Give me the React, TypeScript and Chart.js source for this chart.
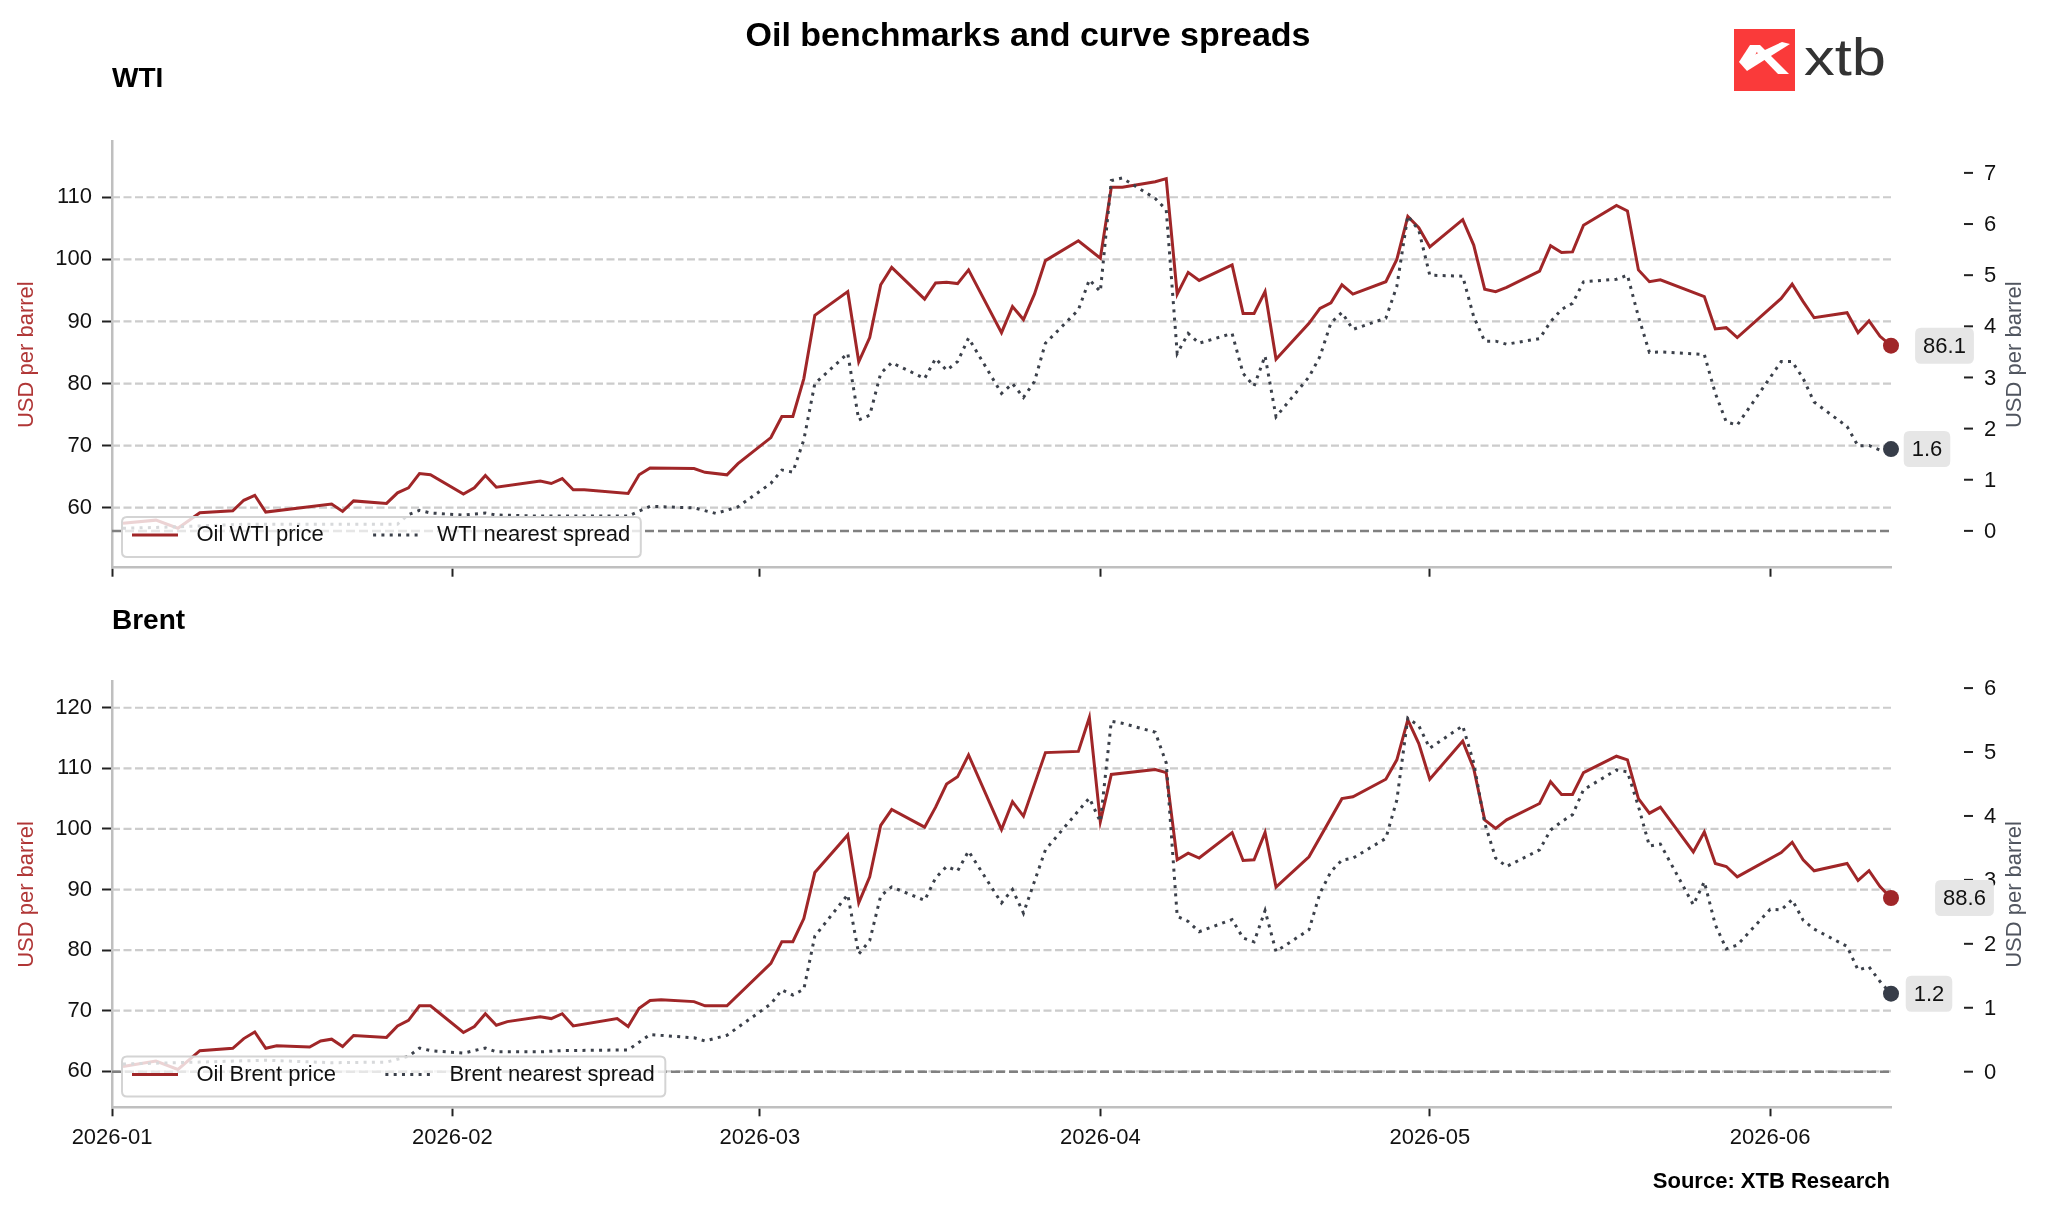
import React, { useEffect, useRef } from "react";
import { Chart, registerables } from "chart.js";

Chart.register(...registerables);

const FONT = "'Liberation Sans', Arial, Helvetica, sans-serif";
const PRICE_COLOR = "#a02628";
const PRICE_LABEL_COLOR = "#b03636";
const SPREAD_COLOR = "#3b404a";
const SPREAD_DOT = "#373d49";
const SPREAD_LABEL_COLOR = "#50555f";

// x values: days since 2026-01-01
const monthTicks = [0, 31, 59, 90, 120, 151];
const monthLabels = ["2026-01", "2026-02", "2026-03", "2026-04", "2026-05", "2026-06"];
const lastDay = 162;

// ---- WTI ----
const wtiPriceDays = [1,4,6,8,11,12,13,14,20,21,22,25,26,27,28,29,32,33,34,35,39,40,41,42,43,47,48,49,53,54,56,57,60,61,62,63,64,67,68,69,70,71,74,75,76,77,78,81,82,83,84,85,88,90,91,92,95,96,97,98,99,102,103,104,105,106,109,110,111,112,113,116,117,118,119,120,123,124,125,126,127,130,131,132,133,134,137,138,139,140,141,145,146,147,148,152,153,154,155,158,159,160,161,162];
const wtiPrice = [57.5,58.0,56.7,59.2,59.5,61.2,62.0,59.3,60.6,59.4,61.1,60.7,62.4,63.2,65.5,65.3,62.2,63.2,65.2,63.3,64.3,63.9,64.7,62.9,62.9,62.3,65.3,66.4,66.3,65.7,65.3,67.1,71.3,74.7,74.7,80.8,91.0,94.8,83.5,87.4,95.9,98.7,93.6,96.2,96.3,96.1,98.3,88.2,92.4,90.3,94.4,99.8,103.0,100.2,111.6,111.6,112.5,113.0,94.4,97.9,96.6,99.1,91.3,91.3,94.8,83.9,89.7,92.1,93.0,95.9,94.4,96.4,100.0,106.9,105.1,102.0,106.4,102.3,95.2,94.8,95.5,98.1,102.2,101.1,101.2,105.5,108.7,107.8,98.3,96.4,96.7,94.0,88.8,89.0,87.4,93.7,96.0,93.2,90.6,91.4,88.2,90.1,87.6,86.1];
const wtiSpreadDays = [1,6,12,20,26,27,28,29,32,34,35,39,41,47,49,53,55,57,60,61,62,63,64,67,68,69,70,71,74,75,76,77,78,81,82,83,84,85,88,89,90,91,92,95,96,97,98,99,102,103,104,105,106,109,110,111,112,113,116,117,118,119,120,123,124,125,126,127,130,131,132,133,134,137,138,139,140,141,145,146,147,148,152,153,154,155,158,159,160,161,162];
const wtiSpread = [0.05,0.08,0.13,0.13,0.13,0.32,0.4,0.35,0.31,0.35,0.31,0.29,0.29,0.29,0.48,0.45,0.34,0.47,0.93,1.19,1.15,1.78,2.88,3.47,2.17,2.26,3.08,3.29,2.98,3.37,3.14,3.31,3.77,2.69,2.88,2.61,2.92,3.67,4.32,4.91,4.68,6.85,6.9,6.5,6.28,3.47,3.86,3.67,3.86,3.08,2.83,3.42,2.23,3.01,3.41,4.07,4.27,3.94,4.16,4.78,6.16,5.88,5.0,4.98,4.19,3.71,3.71,3.65,3.76,4.09,4.33,4.45,4.87,4.92,5.0,4.19,3.49,3.5,3.45,2.69,2.13,2.07,3.31,3.31,2.98,2.52,2.04,1.66,1.67,1.58,1.6];
const wtiPriceTicks = [60, 70, 80, 90, 100, 110];
const wtiSpreadTicks = [0, 1, 2, 3, 4, 5, 6, 7];

// ---- Brent ----
const brentPriceDays = [1,4,6,8,11,12,13,14,15,18,19,20,21,22,25,26,27,28,29,32,33,34,35,36,39,40,41,42,46,47,48,49,50,53,54,56,60,61,62,63,64,67,68,69,70,71,74,75,76,77,78,81,82,83,85,88,89,90,91,95,96,97,98,99,102,103,104,105,106,109,112,113,116,117,118,119,120,123,124,125,126,127,130,131,132,133,134,137,138,139,140,141,144,145,146,147,148,152,153,154,155,158,159,160,161,162];
const brentPrice = [60.8,61.7,60.3,63.4,63.8,65.4,66.5,63.8,64.2,64.0,65.0,65.3,64.1,65.9,65.6,67.5,68.4,70.8,70.8,66.4,67.4,69.5,67.6,68.2,69.0,68.7,69.5,67.5,68.7,67.4,70.4,71.7,71.8,71.5,70.8,70.8,77.8,81.4,81.4,85.2,92.8,99.0,87.8,92.1,100.6,103.2,100.3,103.6,107.4,108.6,112.2,99.9,104.5,102.1,112.6,112.8,118.4,101.2,109.0,109.8,109.3,94.9,96.0,95.2,99.4,94.8,94.9,99.4,90.4,95.4,105.0,105.3,108.2,111.4,118.0,114.1,108.2,114.5,110.0,101.5,100.1,101.5,104.2,107.8,105.7,105.7,109.3,112.0,111.4,105.0,102.6,103.6,96.2,99.5,94.3,93.8,92.1,96.1,97.8,94.9,93.1,94.3,91.5,93.1,90.5,88.6];
const brentSpreadDays = [1,8,14,20,25,27,28,29,32,34,35,39,41,47,49,53,54,56,60,61,62,63,64,67,68,69,70,71,74,75,76,77,78,81,82,83,85,88,89,90,91,92,95,96,97,98,99,102,103,104,105,106,109,110,111,112,113,116,117,118,119,120,123,124,125,126,127,130,131,132,133,134,137,138,139,140,141,144,145,146,147,148,151,152,153,154,155,158,159,160,161,162];
const brentSpread = [0.12,0.15,0.18,0.14,0.15,0.24,0.37,0.33,0.29,0.37,0.31,0.31,0.33,0.34,0.58,0.53,0.48,0.57,1.06,1.28,1.2,1.29,2.12,2.77,1.84,2.05,2.75,2.89,2.68,3.03,3.21,3.14,3.45,2.64,2.85,2.48,3.47,4.08,4.28,3.91,5.48,5.45,5.31,4.83,2.43,2.35,2.19,2.38,2.09,2.03,2.52,1.88,2.22,2.79,3.13,3.31,3.34,3.65,4.25,5.53,5.41,5.06,5.41,4.83,3.89,3.34,3.21,3.47,3.78,3.91,4.02,4.41,4.72,4.69,4.15,3.53,3.56,2.61,2.97,2.3,1.92,1.98,2.54,2.53,2.69,2.37,2.23,1.96,1.59,1.64,1.41,1.22];
const brentPriceTicks = [60, 70, 80, 90, 100, 110, 120];
const brentSpreadTicks = [0, 1, 2, 3, 4, 5, 6];

function roundRect(ctx: any, x: number, y: number, w: number, h: number, r: number) {
  ctx.beginPath();
  ctx.moveTo(x + r, y);
  ctx.lineTo(x + w - r, y);
  ctx.quadraticCurveTo(x + w, y, x + w, y + r);
  ctx.lineTo(x + w, y + h - r);
  ctx.quadraticCurveTo(x + w, y + h, x + w - r, y + h);
  ctx.lineTo(x + r, y + h);
  ctx.quadraticCurveTo(x, y + h, x, y + h - r);
  ctx.lineTo(x, y + r);
  ctx.quadraticCurveTo(x, y, x + r, y);
  ctx.closePath();
}

const panelDecor = {
  id: "panelDecor",
  beforeDatasetsDraw(chart: any) {
    const { ctx, chartArea: a } = chart;
    const ys = chart.scales.y;
    const y2 = chart.scales.y2;
    ctx.save();
    ctx.lineWidth = 2.2;
    ctx.strokeStyle = "#cccccc";
    ctx.setLineDash([8, 3.5]);
    for (const t of ys.ticks) {
      const y = ys.getPixelForValue(t.value);
      ctx.beginPath();
      ctx.moveTo(a.left, y);
      ctx.lineTo(a.right, y);
      ctx.stroke();
    }
    ctx.strokeStyle = "#808080";
    ctx.lineWidth = 2.5;
    ctx.setLineDash([9, 4]);
    const z = y2.getPixelForValue(0);
    ctx.beginPath();
    ctx.moveTo(a.left, z);
    ctx.lineTo(a.right, z);
    ctx.stroke();
    ctx.restore();
  },
  afterDatasetsDraw(chart: any, _args: any, o: any) {
    const { ctx, chartArea: a } = chart;
    const y2 = chart.scales.y2;
    ctx.save();
    ctx.setLineDash([]);
    // right axis (offset outward): tick marks and labels
    ctx.strokeStyle = "#222";
    ctx.lineWidth = 2;
    ctx.font = `22px ${FONT}`;
    ctx.fillStyle = "#111";
    ctx.textAlign = "left";
    ctx.textBaseline = "middle";
    for (const t of y2.ticks) {
      const y = y2.getPixelForValue(t.value);
      ctx.beginPath();
      ctx.moveTo(a.right + 73, y);
      ctx.lineTo(a.right + 82, y);
      ctx.stroke();
      ctx.fillText(String(t.value), a.right + 93, y + 1);
    }
    // legend
    const spread = chart.data.datasets[0];
    const price = chart.data.datasets[1];
    const w1 = ctx.measureText(price.label).width;
    const w2 = ctx.measureText(spread.label).width;
    const bh = 40;
    const bx = a.left + 10;
    const by = a.bottom - 10.7 - bh;
    const bw = 10 + 46 + 18.5 + w1 + 49.5 + 45 + 19 + w2 + 10.5;
    roundRect(ctx, bx, by, bw, bh, 5);
    ctx.fillStyle = "rgba(255,255,255,0.8)";
    ctx.fill();
    ctx.strokeStyle = "#d4d4d4";
    ctx.lineWidth = 2;
    ctx.stroke();
    const cy = by + 18;
    let x = bx + 10;
    ctx.strokeStyle = price.borderColor;
    ctx.lineWidth = price.borderWidth;
    ctx.beginPath();
    ctx.moveTo(x, cy);
    ctx.lineTo(x + 46, cy);
    ctx.stroke();
    x += 46 + 18.5;
    ctx.fillStyle = "#111";
    ctx.fillText(price.label, x, cy);
    x += w1 + 49.5;
    ctx.strokeStyle = spread.borderColor;
    ctx.lineWidth = spread.borderWidth;
    ctx.setLineDash(spread.borderDash);
    ctx.beginPath();
    ctx.moveTo(x, cy);
    ctx.lineTo(x + 45, cy);
    ctx.stroke();
    ctx.setLineDash([]);
    x += 45 + 19;
    ctx.fillText(spread.label, x, cy);
    // end-of-series value labels
    const drawEnd = (idx: number, dx: number) => {
      const ds = chart.data.datasets[idx];
      const meta = chart.getDatasetMeta(idx);
      const pt = meta.data[meta.data.length - 1];
      const val = ds.data[ds.data.length - 1].y;
      const txt = val.toFixed(1);
      const tw = ctx.measureText(txt).width;
      const w = tw + 16;
      const h = 36;
      const cx = pt.x + dx;
      roundRect(ctx, cx - w / 2, pt.y - h / 2, w, h, 6);
      ctx.fillStyle = "#e6e6e6";
      ctx.fill();
      ctx.fillStyle = "#111";
      ctx.textAlign = "center";
      ctx.fillText(txt, cx, pt.y + 1);
    };
    drawEnd(1, o.priceLabelDx);
    drawEnd(0, o.spreadLabelDx);
    ctx.restore();
  },
  afterDraw(chart: any) {
    const { ctx, chartArea: a } = chart;
    const drawV = (text: string, x: number, color: string) => {
      ctx.save();
      ctx.translate(x, (a.top + a.bottom) / 2);
      ctx.rotate(-Math.PI / 2);
      ctx.font = `22px ${FONT}`;
      ctx.fillStyle = color;
      ctx.textAlign = "center";
      ctx.textBaseline = "middle";
      ctx.fillText(text, 0, 0);
      ctx.restore();
    };
    drawV("USD per barrel", 27, PRICE_LABEL_COLOR);
    drawV("USD per barrel", 2015, SPREAD_LABEL_COLOR);
  },
};

type PanelCfg = {
  priceDays: number[];
  price: number[];
  spreadDays: number[];
  spread: number[];
  priceName: string;
  spreadName: string;
  priceMin: number;
  priceMax: number;
  spreadMin: number;
  spreadMax: number;
  priceTicks: number[];
  spreadTicks: number[];
  showX: boolean;
  xAxisHeight: number;
  priceLabelDx: number;
  spreadLabelDx: number;
};

function buildConfig(c: PanelCfg): any {
  const tickFont = { family: FONT, size: 22 };
  const nP = c.price.length;
  const nS = c.spread.length;
  return {
    type: "line",
    data: {
      datasets: [
        {
          label: c.spreadName,
          data: c.spreadDays.map((d, i) => ({ x: d, y: c.spread[i] })),
          yAxisID: "y2",
          borderColor: SPREAD_COLOR,
          borderWidth: 3,
          borderDash: [3, 5.3],
          borderCapStyle: "butt",
          pointRadius: (ctx: any) => (ctx.dataIndex === nS - 1 ? 8 : 0),
          pointHoverRadius: 0,
          pointBackgroundColor: SPREAD_DOT,
          pointBorderWidth: 0,
          tension: 0,
          fill: false,
          clip: false,
          order: 0,
        },
        {
          label: c.priceName,
          data: c.priceDays.map((d, i) => ({ x: d, y: c.price[i] })),
          yAxisID: "y",
          borderColor: PRICE_COLOR,
          borderWidth: 3,
          pointRadius: (ctx: any) => (ctx.dataIndex === nP - 1 ? 8 : 0),
          pointHoverRadius: 0,
          pointBackgroundColor: PRICE_COLOR,
          pointBorderWidth: 0,
          tension: 0,
          fill: false,
          clip: false,
          order: 1,
        },
      ],
    },
    options: {
      responsive: false,
      animation: false,
      events: [],
      layout: { padding: { top: 41.7, left: 0, right: 0, bottom: 0 } },
      plugins: {
        legend: { display: false },
        tooltip: { enabled: false },
        panelDecor: { priceLabelDx: c.priceLabelDx, spreadLabelDx: c.spreadLabelDx },
      },
      scales: {
        x: {
          type: "linear",
          min: 0,
          max: lastDay,
          afterBuildTicks: (s: any) => {
            s.ticks = monthTicks.map((v) => ({ value: v }));
          },
          ticks: {
            display: c.showX,
            autoSkip: false,
            maxRotation: 0,
            padding: 8,
            font: tickFont,
            color: "#111",
            callback: (v: any) => {
              const i = monthTicks.indexOf(Number(v));
              return i >= 0 ? monthLabels[i] : "";
            },
          },
          grid: { drawOnChartArea: false, drawTicks: true, tickLength: 9, tickWidth: 2, tickColor: "#222" },
          border: { display: true, color: "#bfbfbf", width: 2.5 },
          afterFit: (s: any) => {
            s.height = c.xAxisHeight;
            s.paddingLeft = 0;
            s.paddingRight = 0;
          },
        },
        y: {
          type: "linear",
          position: "left",
          min: c.priceMin,
          max: c.priceMax,
          afterBuildTicks: (s: any) => {
            s.ticks = c.priceTicks.map((v) => ({ value: v }));
          },
          ticks: { padding: 10, font: tickFont, color: "#111", callback: (v: any) => String(v) },
          grid: { drawOnChartArea: false, drawTicks: true, tickLength: 10, tickWidth: 2, tickColor: "#222" },
          border: { display: true, color: "#bfbfbf", width: 2.5 },
          afterFit: (s: any) => {
            s.width = 112;
            s.paddingTop = 0;
            s.paddingBottom = 0;
          },
        },
        y2: {
          type: "linear",
          position: "right",
          min: c.spreadMin,
          max: c.spreadMax,
          afterBuildTicks: (s: any) => {
            s.ticks = c.spreadTicks.map((v) => ({ value: v }));
          },
          ticks: { display: false },
          grid: { drawOnChartArea: false, drawTicks: false },
          border: { display: false },
          afterFit: (s: any) => {
            s.width = 157;
            s.paddingTop = 0;
            s.paddingBottom = 0;
          },
        },
      },
    },
    plugins: [panelDecor],
  };
}

const wtiCfg: PanelCfg = {
  priceDays: wtiPriceDays,
  price: wtiPrice,
  spreadDays: wtiSpreadDays,
  spread: wtiSpread,
  priceName: "Oil WTI price",
  spreadName: "WTI nearest spread",
  priceMin: 50.34,
  priceMax: 118.95,
  spreadMin: -0.72,
  spreadMax: 7.61,
  priceTicks: wtiPriceTicks,
  spreadTicks: wtiSpreadTicks,
  showX: false,
  xAxisHeight: 22.3,
  priceLabelDx: 53.5,
  spreadLabelDx: 36,
};

const brentCfg: PanelCfg = {
  priceDays: brentPriceDays,
  price: brentPrice,
  spreadDays: brentSpreadDays,
  spread: brentSpread,
  priceName: "Oil Brent price",
  spreadName: "Brent nearest spread",
  priceMin: 54.06,
  priceMax: 124.3,
  spreadMin: -0.557,
  spreadMax: 6.1,
  priceTicks: brentPriceTicks,
  spreadTicks: brentSpreadTicks,
  showX: true,
  xAxisHeight: 62.7,
  priceLabelDx: 73.5,
  spreadLabelDx: 38,
};

function Panel({ cfg, top, height }: { cfg: PanelCfg; top: number; height: number }) {
  const ref = useRef<HTMLCanvasElement>(null);
  useEffect(() => {
    const chart = new Chart(ref.current as HTMLCanvasElement, buildConfig(cfg));
    return () => chart.destroy();
  }, [cfg]);
  return (
    <canvas
      ref={ref}
      width={2048}
      height={height}
      style={{ position: "absolute", left: 0, top, width: 2048, height, display: "block" }}
    />
  );
}

export default function App() {
  return (
    <div
      style={{
        position: "absolute",
        left: 0,
        top: 0,
        width: 2048,
        height: 1213,
        background: "#ffffff",
        overflow: "hidden",
        fontFamily: FONT,
      }}
    >
      <Panel cfg={wtiCfg} top={100} height={490} />
      <Panel cfg={brentCfg} top={640} height={530} />
      <svg
        width={2048}
        height={1213}
        style={{ position: "absolute", left: 0, top: 0, pointerEvents: "none" }}
      >
        <text x={1028} y={46} textAnchor="middle" fontWeight="bold" fontSize={34} fill="#000" style={{ fontFamily: FONT }}>
          Oil benchmarks and curve spreads
        </text>
        <text x={112} y={87} fontWeight="bold" fontSize={28} fill="#000" style={{ fontFamily: FONT }}>
          WTI
        </text>
        <text x={112} y={629} fontWeight="bold" fontSize={28} fill="#000" style={{ fontFamily: FONT }}>
          Brent
        </text>
        <text x={1890} y={1187.5} textAnchor="end" fontWeight="bold" fontSize={22} fill="#000" style={{ fontFamily: FONT }}>
          Source: XTB Research
        </text>
        <g>
          <rect x={1734} y={29} width={61} height={62} fill="#fa3a3a" />
          <polygon points="1739,62 1782,42 1790,44 1747,71" fill="#ffffff" />
          <polygon points="1750,45 1760,45 1789,74 1778,74" fill="#ffffff" />
          <polygon points="1739,62 1750,45 1760,45 1752,62" fill="#ffffff" />
          <text
            x={1804}
            y={75}
            fontSize={52}
            fill="#333333"
            textLength={82}
            lengthAdjust="spacingAndGlyphs"
            style={{ fontFamily: FONT }}
          >
            xtb
          </text>
        </g>
      </svg>
    </div>
  );
}
